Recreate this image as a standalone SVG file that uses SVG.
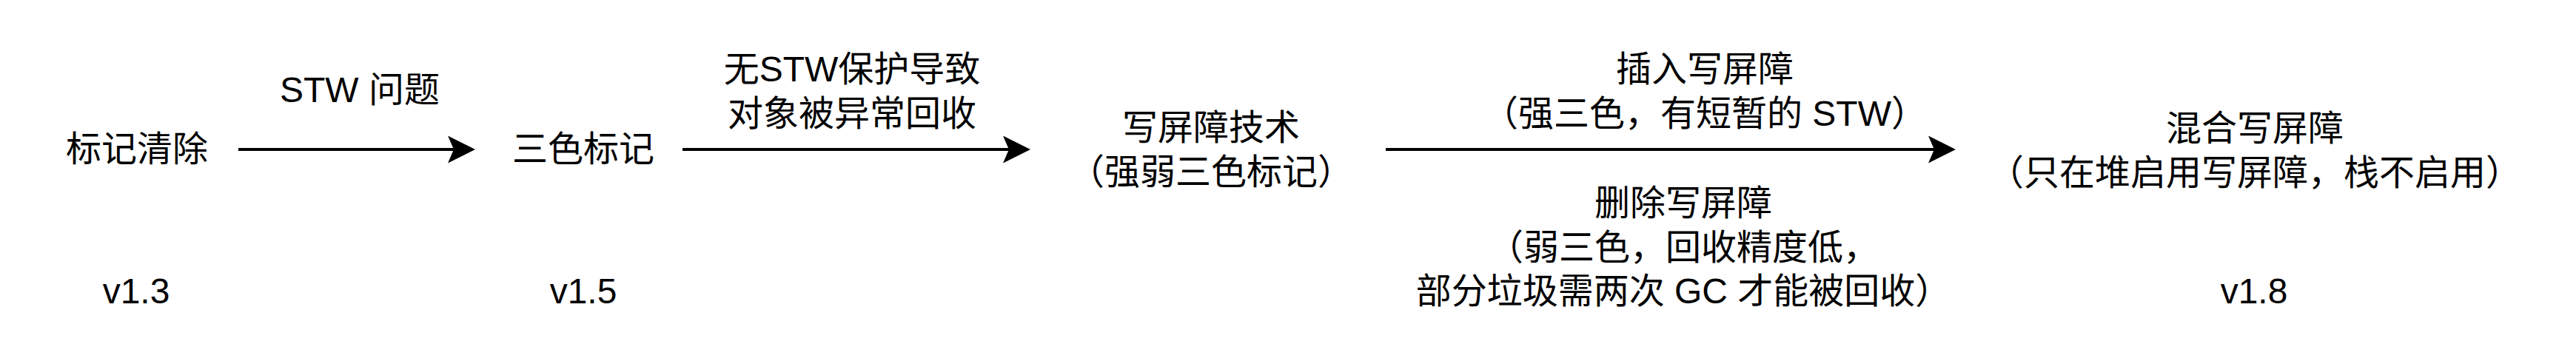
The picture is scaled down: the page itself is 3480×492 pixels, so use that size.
<svg xmlns="http://www.w3.org/2000/svg" width="3480" height="492" viewBox="0 0 3480 492">
  <style>
    text { font-family: "Liberation Sans", "Noto Sans CJK SC", sans-serif; font-size: 48px; fill: #000000; text-anchor: middle; }
    .conn { stroke: #000000; stroke-width: 4; fill: none; marker-end: url(#arrow); }
  </style>
  <defs>
    <marker id="arrow" viewBox="0 0 37 37" refX="8" refY="18.5" markerWidth="37" markerHeight="37" markerUnits="userSpaceOnUse" orient="auto">
      <path d="M0,0 L37,18.5 L0,37 L8,18.5 Z" fill="#000000"/>
    </marker>
  </defs>
  <rect x="0" y="0" width="3480" height="492" fill="#ffffff"/>

  <g id="connectors">
    <path class="conn" d="M322,202 H613"/>
    <path class="conn" d="M922,202 H1363"/>
    <path class="conn" d="M1872,202 H2613"/>
    <g id="label-stw">
      <text x="486" y="138">STW 问题</text>
    </g>
    <g id="label-no-stw">
      <text x="1151" y="110">无STW保护导致</text>
      <text x="1151" y="170">对象被异常回收</text>
    </g>
    <g id="label-insert">
      <text x="2303" y="110">插入写屏障</text>
      <text x="2303" y="170">（强三色，有短暂的 STW）</text>
    </g>
    <g id="label-delete">
      <text x="2274" y="291">删除写屏障</text>
      <text x="2274" y="351">（弱三色，回收精度低，</text>
      <text x="2274" y="410">部分垃圾需两次 GC 才能被回收）</text>
    </g>
  </g>

  <g id="node-mark-sweep">
    <text x="185" y="218">标记清除</text>
  </g>
  <g id="node-tricolor">
    <text x="788" y="218">三色标记</text>
  </g>
  <g id="node-write-barrier">
    <text x="1636" y="189">写屏障技术</text>
    <text x="1636" y="249">（强弱三色标记）</text>
  </g>
  <g id="node-hybrid">
    <text x="3046" y="190">混合写屏障</text>
    <text x="3046" y="250">（只在堆启用写屏障，栈不启用）</text>
  </g>
  <g id="version-1-3">
    <text x="184" y="410">v1.3</text>
  </g>
  <g id="version-1-5">
    <text x="788" y="410">v1.5</text>
  </g>
  <g id="version-1-8">
    <text x="3045" y="410">v1.8</text>
  </g>
</svg>
